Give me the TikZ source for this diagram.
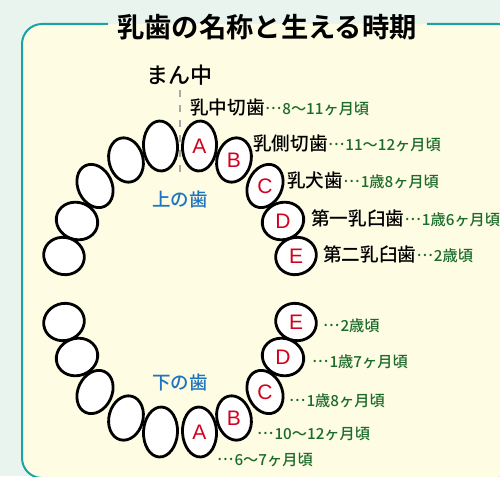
\documentclass[tikz,border=0pt]{standalone}
\usepackage{fontspec}
\setmainfont{Noto Sans CJK JP Medium}[BoldFont={Noto Sans CJK JP Bold}]
\newfontfamily\letterfont{Liberation Sans}
\newcommand\agedots{\raisebox{.3em}{…}\kern1pt}
\definecolor{bgmint}{HTML}{EAF4EE}
\definecolor{panelcream}{HTML}{FEFDE4}
\definecolor{framecol}{HTML}{1AA3A3}
\definecolor{letterred}{HTML}{D2021E}
\definecolor{agegreen}{HTML}{1B6B2B}
\definecolor{jawblue}{HTML}{1E74BE}
\definecolor{midgray}{HTML}{A8A8A8}

\begin{document}
\begin{tikzpicture}[x=1pt, y=-1pt,
  tooth/.style={draw=black, fill=white, line width=2.8pt},
  letter/.style={text=letterred, font=\letterfont\fontsize{21}{21}\selectfont},
  toothname/.style={anchor=base west, inner sep=0pt, font=\fontsize{18.6}{19}\selectfont},
  agetext/.style={anchor=base west, inner sep=0pt, text=agegreen, font=\fontsize{15.2}{16}\selectfont},
  jawlabel/.style={text=jawblue, font=\fontsize{18.5}{18.5}\selectfont},
  midline/.style={midgray, line width=2.5pt, dash pattern=on 7pt off 8pt}]
\useasboundingbox (0,0) rectangle (500,476);
\fill[bgmint] (0,0) rectangle (500,476);

% panel with a gap for the heading
\begin{scope}
\clip (0,0) rectangle (500,476);
\fill[panelcream, rounded corners=20pt] (22,24) rectangle (518,478);
\draw[framecol, line width=2pt, rounded corners=20pt] (108,24) -- (22,24) -- (22,478) -- (518,478) -- (518,24) -- (427,24);
\end{scope}
\node[font=\bfseries\fontsize{27.3}{28}\selectfont] (title) at (267,27) {乳歯の名称と生える時期};

% centre line
\node[font=\fontsize{22}{22}\selectfont] (center) at (179,75) {まん中};
\coordinate (mtop) at (180,90);
\coordinate (mbot) at (180,174);
\draw[midline] (mtop) -- (mbot);

% teeth: right side given, left side and lower jaw mirrored
\foreach \dx/\dy/\rx/\ry/\r/\l in {19.5/-143/17/25/-3/A, 54/-129/17/22.5/-15/B, 85/-103/17/22.5/-25/C, 103/-68/21/18.5/20/D, 116/-33/20.5/18.5/18/E}
{
  \foreach \sx in {1,-1}
    \foreach \sy in {1,-1}
      \draw[tooth, rotate around={\sx*\sy*\r:(180+\sx*\dx,289+\sy*\dy)}] (180+\sx*\dx,289+\sy*\dy) ellipse [x radius=\rx, y radius=\ry];
  \node[letter] (u\l) at (180+\dx,289+\dy) {\l};
  \node[letter] (d\l) at (180+\dx,289-\dy) {\l};
}

\node[jawlabel] (upper) at (180,199) {上の歯};
\node[jawlabel] (lower) at (180,382) {下の歯};

% upper names and ages
\node[toothname] (nA) at (190,114) {乳中切歯};
\node[toothname] (nB) at (253,150) {乳側切歯};
\node[toothname] (nC) at (287,187) {乳犬歯};
\node[toothname] (nD) at (311,225) {第一乳臼歯};
\node[toothname] (nE) at (323,261) {第二乳臼歯};
\node[agetext] (aA) at (nA.base east) {\agedots 8～11ヶ月頃};
\node[agetext] (aB) at (nB.base east) {\agedots 11～12ヶ月頃};
\node[agetext] (aC) at (nC.base east) {\agedots 1歳8ヶ月頃};
\node[agetext] (aD) at (nD.base east) {\agedots 1歳6ヶ月頃};
\node[agetext] (aE) at (nE.base east) {\agedots 2歳頃};

% lower ages
\node[agetext] (bE) at (323,331) {\agedots 2歳頃};
\node[agetext] (bD) at (312,367) {\agedots 1歳7ヶ月頃};
\node[agetext] (bC) at (289,406) {\agedots 1歳8ヶ月頃};
\node[agetext] (bB) at (257,439) {\agedots 10～12ヶ月頃};
\node[agetext] (bA) at (217,465) {\agedots 6～7ヶ月頃};

\end{tikzpicture}
\end{document}
